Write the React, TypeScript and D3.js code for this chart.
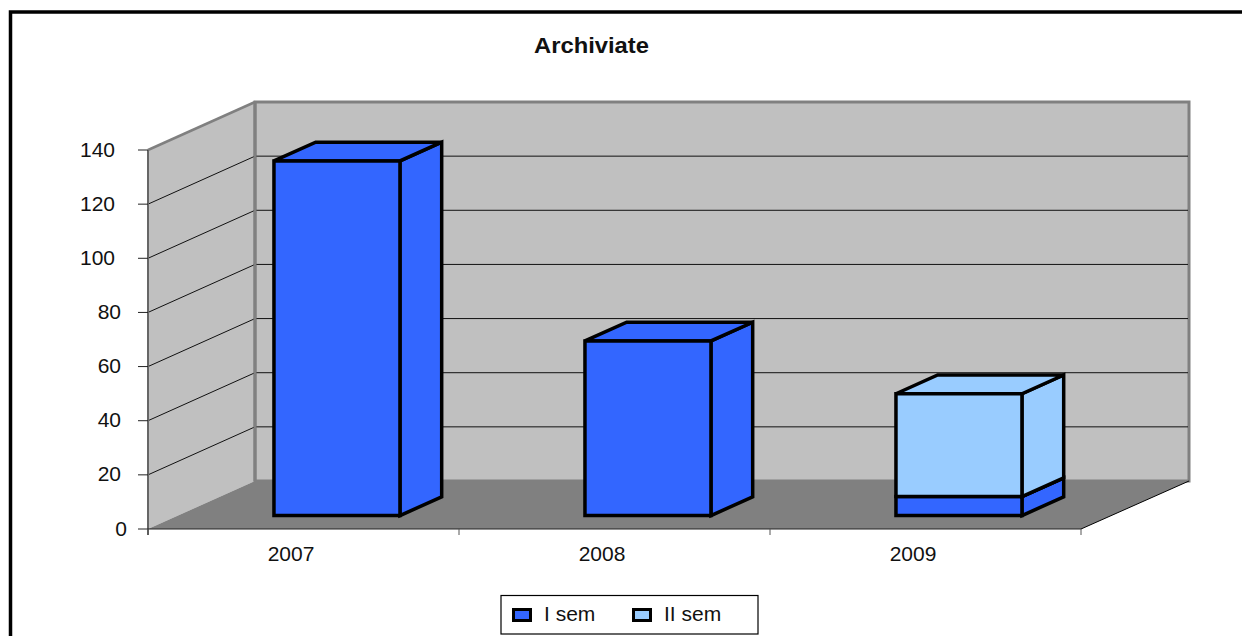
import React from "react";
import * as d3 from "d3";

const categories = ["2007", "2008", "2009"];
const semI = [131, 64.5, 7];
const semII = [0, 0, 38];
const yTicks = [0, 20, 40, 60, 80, 100, 120, 140];
const seriesNames = ["I sem", "II sem"];
const seriesColors = ["#3366ff", "#99ccff"];
const title = "Archiviate";

const W = 1242, H = 636;
const x = d3.scaleBand<string>().domain(categories).range([148, 1081]);
const y = d3.scaleLinear().domain([0, 140]).range([529, 150]);
const depth = { dx: 107, dy: -48 };
const barInset = 96, barWidth = 126;
const tFront = 0.28, tBack = 0.67;
const P = (px: number, py: number, t = 0): [number, number] => [px + depth.dx * t, py + depth.dy * t];
const poly = (pts: [number, number][]) => d3.line()(pts)! + "Z";
const font = "'Liberation Sans', Arial, sans-serif";
const labelEnd = (t: number) => [127, 121, 115][String(t).length - 1];

function Box({ left, v0, v1, fill }: { left: number; v0: number; v1: number; fill: string }) {
  const right = left + barWidth;
  const y0 = y(v0), y1 = y(v1);
  const s = { fill, stroke: "#000", strokeWidth: 3.5, strokeLinejoin: "miter" as const };
  return (
    <g>
      <path {...s} d={poly([P(right, y0, tFront), P(right, y0, tBack), P(right, y1, tBack), P(right, y1, tFront)])} />
      <path {...s} d={poly([P(left, y1, tFront), P(right, y1, tFront), P(right, y1, tBack), P(left, y1, tBack)])} />
      <path {...s} d={poly([P(left, y0, tFront), P(right, y0, tFront), P(right, y1, tFront), P(left, y1, tFront)])} />
    </g>
  );
}

export default function App() {
  const x0 = 148, x1 = 1081, x1Back = 1082;
  const y0 = y(0), yTop = y(140);
  const ends = [...categories.map((c) => x(c)!), x1];
  return (
    <svg width={W} height={H} style={{ position: "absolute", left: 0, top: 0, background: "#fff" }} fontFamily={font} fill="#111">
      <path d={`M10.5 ${H + 5}V12H${W + 5}`} fill="none" stroke="#000" strokeWidth={3.5} />
      <text x={591.5} y={53} textAnchor="middle" fontSize={21.5} fontWeight="bold" textLength={115} lengthAdjust="spacingAndGlyphs">{title}</text>

      {/* side wall */}
      <path d={poly([P(x0, y0), P(x0, y0, 1), P(x0, yTop, 1), P(x0, yTop)])} fill="#c0c0c0" />
      {/* back wall */}
      <path d={poly([P(x0, y0, 1), P(x1Back, y0, 1), P(x1Back, yTop, 1), P(x0, yTop, 1)])} fill="#c0c0c0" stroke="#808080" strokeWidth={3} />
      <path d={d3.line()([P(x0, yTop), P(x0, yTop, 1)])!} stroke="#808080" strokeWidth={2.5} fill="none" />
      {/* floor */}
      <path d={poly([P(x0, y0), P(x1, y0), P(x1Back, y0, 1), P(x0, y0, 1)])} fill="#808080" />
      <path d={d3.line()([P(x1, y0), P(x1Back, y0, 1)])!} stroke="#000" strokeWidth={1} fill="none" />

      {/* gridlines */}
      {yTicks.slice(1, -1).map((t) => (
        <path key={t} d={d3.line()([P(x0, y(t)), P(x0, y(t), 1), P(x1, y(t), 1)])!} fill="none" stroke="#111" strokeWidth={1} />
      ))}
      <path d={d3.line()([P(x0, y0, 1), P(x0, yTop, 1)])!} stroke="#808080" strokeWidth={3} fill="none" />

      {/* axes */}
      <path d={`M${x0} ${yTop}V${y0 + 6}`} stroke="#666" strokeWidth={2} fill="none" />
      <path d={`M${x0} ${y0}H${x1}`} stroke="#222" strokeWidth={1.2} fill="none" />
      {yTicks.map((t) => (
        <g key={t}>
          <path d={`M${x0 - 10} ${y(t)}H${x0}`} stroke="#222" strokeWidth={1} />
          <text x={labelEnd(t)} y={y(t) + 6.5} textAnchor="end" fontSize={21}>{t}</text>
        </g>
      ))}
      {ends.map((e) => (
        <path key={e} d={`M${e} ${y0}V${y0 + 6}`} stroke="#555" strokeWidth={1} />
      ))}
      {categories.map((c) => (
        <text key={c} x={x(c)! + x.bandwidth() / 2 - 12.5} y={561} textAnchor="middle" fontSize={21}>{c}</text>
      ))}

      {/* bars */}
      {categories.map((c, i) => {
        const left = x(c)! + barInset;
        return (
          <g key={c}>
            <Box left={left} v0={0} v1={semI[i]} fill={seriesColors[0]} />
            {semII[i] > 0 && <Box left={left} v0={semI[i]} v1={semI[i] + semII[i]} fill={seriesColors[1]} />}
          </g>
        );
      })}

      {/* legend */}
      <rect x={501} y={595.5} width={257} height={38.5} fill="#fff" stroke="#000" strokeWidth={1.2} />
      {seriesNames.map((n, i) => {
        const sx = [513.5, 633.5][i], tx = [544, 664][i];
        return (
          <g key={n}>
            <rect x={sx} y={609.5} width={17} height={11} fill={seriesColors[i]} stroke="#000" strokeWidth={3} />
            <text x={tx} y={621} fontSize={21}>{n}</text>
          </g>
        );
      })}
    </svg>
  );
}
